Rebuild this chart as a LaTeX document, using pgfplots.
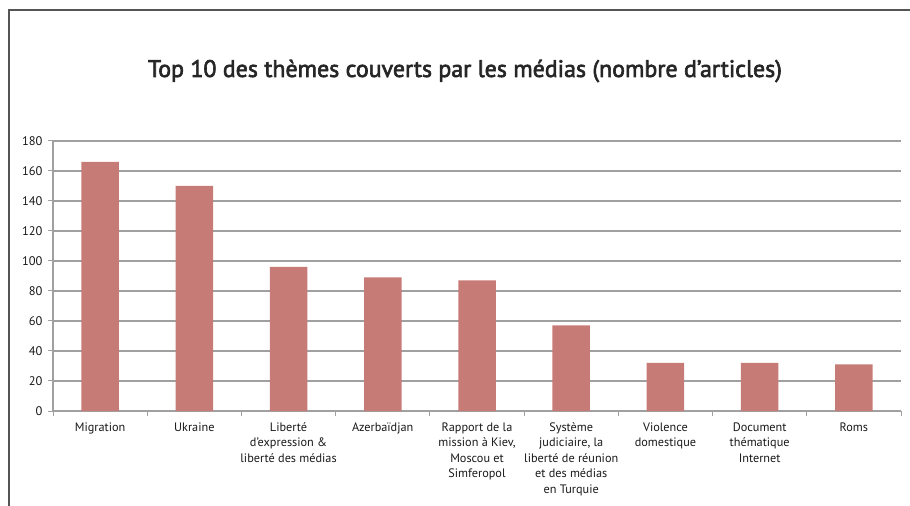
\documentclass[border=0pt]{standalone}
\usepackage{pgfplots}
\pgfplotsset{compat=1.18}
\usepackage{fontspec}
\setmainfont{PT Sans}
\newfontface\titlefont{PT Sans}[FakeBold=2.6]
\definecolor{barc}{RGB}{199,123,119}
\definecolor{gridc}{RGB}{160,160,160}
\definecolor{framec}{RGB}{85,85,85}
\begin{document}
\begin{tikzpicture}
\path[use as bounding box] (0,0) rectangle (910bp,506bp);
\draw[line width=2bp, color=framec] (8.5bp,0) -- (8.5bp,496bp) -- (910bp,496bp);
\node[font=\titlefont\fontsize{24}{28}\selectfont, text=black!85] at (465bp,435bp) {Top 10 des thèmes couverts par les médias (nombre d’articles)};
\begin{axis}[
  at={(53bp,95bp)}, anchor=south west,
  scale only axis, width=848bp, height=270bp,
  ybar, bar width=37.5bp,
  xmin=-0.5, xmax=8.5, ymin=0, ymax=180,
  ytick={0,20,...,180},
  xtick={0,...,8},
  xticklabels={Migration, Ukraine, {Liberté\\d'expression \&\\liberté des médias}, Azerbaïdjan, {Rapport de la\\mission à Kiev,\\Moscou et\\Simferopol}, {Système\\judiciaire, la\\liberté de réunion\\et des médias\\en Turquie}, {Violence\\domestique}, {Document\\thématique\\Internet}, Roms},
  minor xtick={-0.5,0.5,...,8.5},
  major x tick style={draw=none},
  minor x tick style={draw=gridc, line width=1bp},
  y tick style={draw=gridc, line width=1bp},
  tick align=outside,
  major tick length=5bp, minor tick length=5bp,
  axis x line*=bottom, axis y line*=left,
  axis line style={gridc, line width=1.2bp},
  ymajorgrids, major grid style={gridc, line width=1.2bp},
  xticklabel style={align=center, font=\fontsize{12.3}{15.5}\selectfont, text=black!90, yshift=-3bp},
  yticklabel style={font=\fontsize{12.5}{14}\selectfont, text=black!90, xshift=-2bp},
  /pgf/number format/assume math mode=true,
  clip=false,
]
\addplot[fill=barc, draw=none] coordinates {(0,166) (1,150) (2,96) (3,89) (4,87) (5,57) (6,32) (7,32) (8,31)};
\end{axis}
\end{tikzpicture}
\end{document}
